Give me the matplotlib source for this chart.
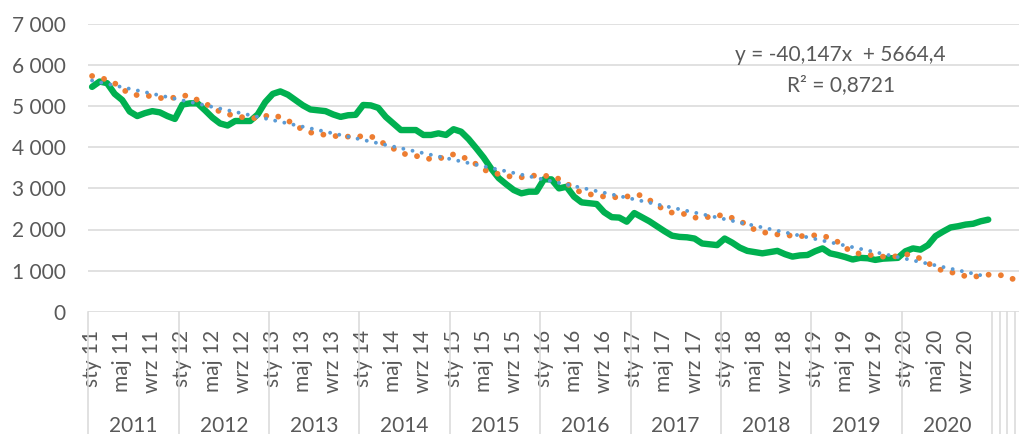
import numpy as np
import matplotlib
matplotlib.use("Agg")
import matplotlib.pyplot as plt
import matplotlib.transforms as mtransforms
from matplotlib.ticker import FuncFormatter

plt.rcParams['font.family'] = ['Lato', 'DejaVu Sans']

# --- data ---
years = [2011, 2012, 2013, 2014, 2015, 2016, 2017, 2018, 2019, 2020]
month_abbr = ['sty', 'lut', 'mar', 'kwi', 'maj', 'cze', 'lip', 'sie', 'wrz', 'paź', 'lis', 'gru']
extra_categories = 4  # empty categories after 2020

# green: actual monthly values (2011-01 .. 2020-12)
green = [5470, 5600, 5560, 5300, 5150, 4870, 4760, 4830, 4880, 4850, 4760, 4690,
         5040, 5070, 5070, 4900, 4720, 4580, 4530, 4640, 4640, 4640, 4800, 5100,
         5300, 5360, 5280, 5150, 5020, 4920, 4900, 4880, 4800, 4740, 4780, 4790,
         5030, 5020, 4960, 4740, 4580, 4420, 4420, 4420, 4300, 4300, 4340, 4300,
         4440, 4380, 4200, 3980, 3750, 3480, 3250, 3100, 2960, 2880, 2920, 2920,
         3220, 3220, 3000, 3040, 2800, 2660, 2640, 2620, 2420, 2300, 2290, 2190,
         2400, 2300, 2200, 2080, 1960, 1850, 1820, 1810, 1780, 1660, 1640, 1620,
         1780, 1680, 1560, 1480, 1450, 1420, 1450, 1480, 1400, 1340, 1370, 1380,
         1470, 1540, 1420, 1380, 1330, 1270, 1310, 1300, 1260, 1290, 1300, 1310,
         1470, 1540, 1510, 1620, 1840, 1950, 2050, 2080, 2120, 2140, 2200, 2240]

# orange: modelled series, runs 4 months past the data
orange = [5735, 5700, 5640, 5560, 5420, 5300, 5270, 5260, 5240, 5200, 5190, 5210,
          5260, 5250, 5150, 5060, 4980, 4860, 4800, 4780, 4730, 4700, 4720, 4760,
          4790, 4730, 4650, 4540, 4420, 4360, 4330, 4300, 4280, 4260, 4260, 4260,
          4270, 4270, 4180, 4060, 3970, 3870, 3810, 3790, 3750, 3710, 3730, 3760,
          3830, 3780, 3700, 3590, 3460, 3380, 3350, 3310, 3270, 3270, 3290, 3320,
          3310, 3290, 3230, 3130, 2980, 2900, 2860, 2830, 2800, 2780, 2790, 2800,
          2850, 2830, 2720, 2590, 2480, 2410, 2390, 2370, 2290, 2280, 2310, 2340,
          2350, 2280, 2200, 2120, 1990, 1940, 1900, 1880, 1860, 1850, 1840, 1840,
          1860, 1860, 1780, 1700, 1560, 1440, 1410, 1390, 1360, 1340, 1340, 1350,
          1400, 1370, 1290, 1180, 1080, 990, 960, 930, 860, 850, 870, 900,
          900, 880, 820, 730]

# linear trendline shown on the chart (fitted to green)
trend_slope = -40.147
trend_intercept = 5664.4
r_squared = 0.8721

n_cat = len(years) * 12 + extra_categories

W, H = 1019, 434
fig = plt.figure(figsize=(W / 100, H / 100), dpi=100)
left_px, right_px = 88.3, 88.3 + n_cat * 7.531
top_px, bottom_px = 24.0, 311.7
ax = fig.add_axes([left_px / W, 1 - bottom_px / H,
                   (right_px - left_px) / W, (bottom_px - top_px) / H])

text_col = '#595959'
grid_col = '#D9D9D9'

x_green = np.arange(len(green))
x_orange = np.arange(len(orange))
trend_x = np.arange(1, len(green) + 1)
trend_y = trend_slope * trend_x + trend_intercept

ax.plot(x_green, green, color='#00B050', lw=4.6, solid_joinstyle='round',
        solid_capstyle='round', zorder=3)
ax.plot(x_orange, orange, color='#ED7D31', lw=4.2, linestyle=(0, (0.01, 2.1)),
        dash_capstyle='round', zorder=4)
ax.plot(trend_x - 1, trend_y, color='#5B9BD5', lw=2.8, linestyle=(0, (0.01, 2.4)),
        dash_capstyle='round', zorder=5)

ax.set_xlim(-0.5, n_cat - 0.5)
ax.set_ylim(0, 7000)
ax.set_yticks(range(0, 7001, 1000))
ax.yaxis.set_major_formatter(FuncFormatter(lambda v, p: f"{int(v):,}".replace(',', ' ')))
ax.grid(axis='y', color=grid_col, lw=1.1, zorder=0)
ax.set_axisbelow(True)
for s in ax.spines.values():
    s.set_visible(False)

# month labels: every 4th month
ticks, labels = [], []
for yi, yr in enumerate(years):
    for m in range(0, 12, 4):
        ticks.append(yi * 12 + m)
        labels.append(f"{month_abbr[m]} {yr % 100}")
ax.set_xticks(ticks)
ax.set_xticklabels(labels, rotation=90, va='top', ha='center')
ax.tick_params(axis='x', length=0, pad=13, labelsize=15, labelcolor=text_col)
ax.tick_params(axis='y', length=0, pad=16.5, labelsize=15, labelcolor=text_col)

# group separators and year labels
trans = mtransforms.blended_transform_factory(ax.transData, ax.transAxes)
ax_h = bottom_px - top_px
y_low = -(H - bottom_px) / ax_h
bounds = [yi * 12 - 0.5 for yi in range(len(years) + 1)]
bounds += [len(years) * 12 + k + 0.5 for k in range(extra_categories)]
for b in bounds:
    ax.plot([b, b], [0, y_low], color=grid_col, lw=1.1, transform=trans, clip_on=False)

ytrans = mtransforms.blended_transform_factory(ax.transData, fig.transFigure)
for yi, yr in enumerate(years):
    ax.text(yi * 12 + 5.5, 2.0 / H, str(yr), transform=ytrans, ha='center',
            va='baseline', fontsize=15, color=text_col, clip_on=False)

# trendline equation
fig.text(840 / W, 1 - 55 / H, "y = -40,147x  + 5664,4", ha='center', va='center',
         fontsize=15, color=text_col)
fig.text(841 / W, 1 - 85 / H, f"R² = {r_squared}".replace('.', ','), ha='center',
         va='center', fontsize=15, color=text_col)

fig.savefig('out.png', dpi=100)
